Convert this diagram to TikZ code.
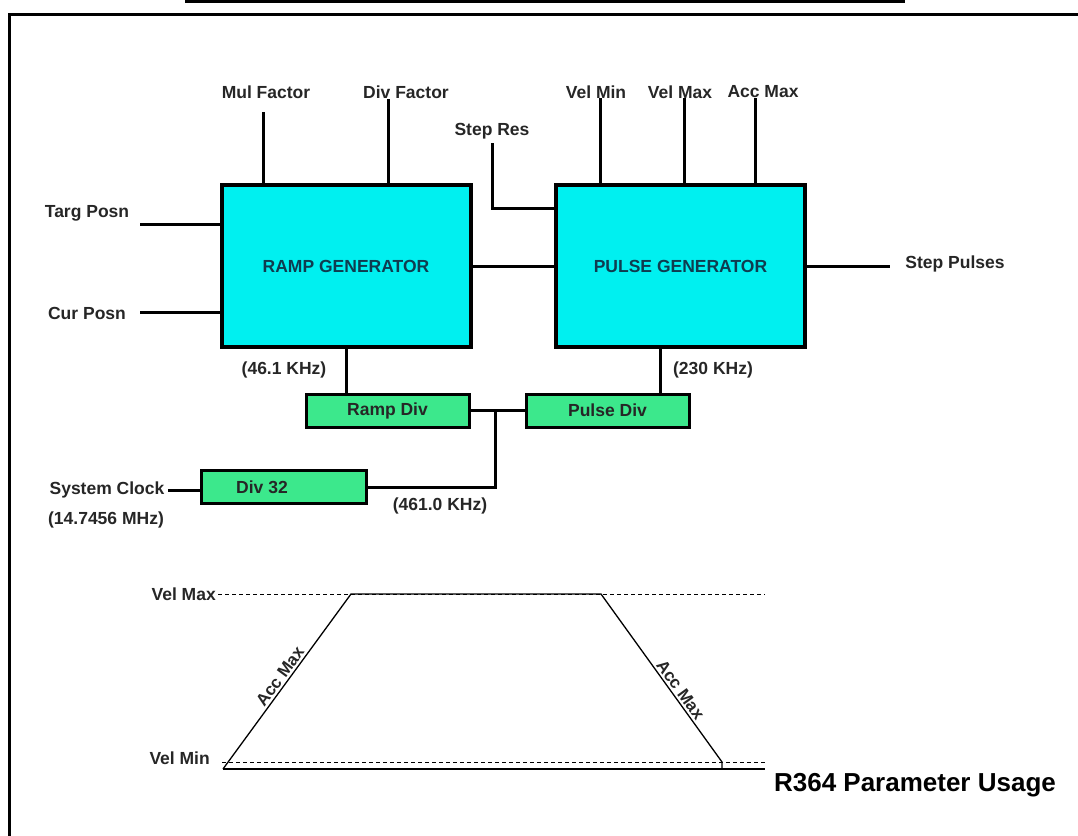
\documentclass[tikz,border=0pt]{standalone}
\usepackage{fontspec}
\setmainfont{Liberation Sans}
\definecolor{gencyan}{RGB}{0,240,240}
\definecolor{gentext}{RGB}{15,60,80}
\definecolor{divgreen}{RGB}{60,232,140}
\begin{document}
\begin{tikzpicture}[x=1pt,y=-1pt,
  lbl/.style={font=\fontsize{17.5}{20}\selectfont\bfseries, text=black!85, inner sep=0pt},
  genbox/.style={draw, line width=4pt, fill=gencyan, minimum width=249pt, minimum height=162pt, inner sep=0pt, font=\fontsize{17.5}{20}\selectfont\bfseries, text=gentext},
  divbox/.style={draw, line width=3pt, fill=divgreen, minimum width=163pt, minimum height=33pt, inner sep=0pt, font=\fontsize{17.5}{20}\selectfont\bfseries, text=black!85},
  wire/.style={line width=3pt},
  trapline/.style={line width=1.3pt},
  dashline/.style={line width=1pt, dash pattern=on 4pt off 3pt},
  slopelbl/.style={sloped, above, font=\fontsize{17}{20}\selectfont\bfseries, text=black!85, inner sep=2pt}
]
\useasboundingbox (0,0) rectangle (1078,835);
% frame and title rule
\coordinate (fBL) at (9,840);
\coordinate (fTL) at (9,14);
\coordinate (fTR) at (1080,14);
\draw[line width=3pt] (fBL) -- (fTL) -- (fTR);
\coordinate (tA) at (185,1.5);
\coordinate (tB) at (905,1.5);
\draw[line width=2.5pt] (tA) -- (tB);

% main blocks
\node[genbox] (ramp) at (346,266) {RAMP GENERATOR};
\node[genbox] (pulse) at (680.5,266) {PULSE GENERATOR};
\node[divbox] (rdiv) at (387.5,410.5) {Ramp Div};
\node[divbox] (pdiv) at (607.5,410.5) {Pulse Div};
\node[divbox, minimum width=165pt, label={[xshift=-22pt, font=\fontsize{17.5}{20}\selectfont\bfseries, text=black!85]center:Div 32}] (d32) at (284,487) {};

% top inputs
\node[lbl] (mul) at (266,92) {Mul Factor};
\coordinate (mulS) at (263,112);
\draw[wire] (mulS) -- (mulS |- ramp.north);
\node[lbl] (divf) at (406,92) {Div Factor};
\coordinate (divS) at (388,99);
\draw[wire] (divS) -- (divS |- ramp.north);
\node[lbl] (sres) at (492,131) {Step Res};
\coordinate (sresS) at (492,143);
\coordinate (sresK) at (492,208);
\draw[wire] (sresS) -- (sresK) -- (sresK -| pulse.west);
\node[lbl] (vmin) at (596,92) {Vel Min};
\coordinate (vminS) at (600,98);
\draw[wire] (vminS) -- (vminS |- pulse.north);
\node[lbl] (vmax) at (680,92) {Vel Max};
\coordinate (vmaxS) at (684,98);
\draw[wire] (vmaxS) -- (vmaxS |- pulse.north);
\node[lbl] (amax) at (763,92) {Acc Max};
\coordinate (amaxS) at (755,98);
\draw[wire] (amaxS) -- (amaxS |- pulse.north);

% left inputs
\node[lbl] (targ) at (87,213) {Targ Posn};
\coordinate (targE) at (140,224);
\draw[wire] (targE) -- (targE -| ramp.west);
\node[lbl] (cur) at (87,313) {Cur Posn};
\coordinate (curE) at (140,312);
\draw[wire] (curE) -- (curE -| ramp.west);

% between blocks and output
\draw[wire] (ramp.east) -- (pulse.west);
\coordinate (outE) at (890,266);
\draw[wire] (pulse.east) -- (outE);
\node[lbl] (spul) at (955,264) {Step Pulses};

% clocks
\node[lbl] (f461) at (284,370) {(46.1 KHz)};
\draw[wire] (ramp.south) -- (ramp.south |- rdiv.north);
\node[lbl] (f230) at (713,370) {(230 KHz)};
\coordinate (pck) at (660,0);
\draw[wire] (pck |- pulse.south) -- (pck |- pdiv.north);
\draw[wire] (rdiv.east) -- (pdiv.west);
\coordinate (jn) at (495,410.5);
\draw[wire] (d32.east) -| (jn);
\node[lbl] (f4610) at (440,506) {(461.0 KHz)};
\node[lbl] (sys) at (107,490) {System Clock};
\coordinate (sysE) at (168,490);
\draw[wire] (sysE) -- (sysE -| d32.west);
\node[lbl] (sysf) at (106,520) {(14.7456 MHz)};

% velocity profile
\node[lbl, anchor=east] (tvmax) at (216,594) {Vel Max};
\node[lbl, anchor=east] (tvmin) at (210,758) {Vel Min};
\coordinate (pA) at (223,769);
\coordinate (pB) at (351,594);
\coordinate (pC) at (601,594);
\coordinate (pD) at (722,762);
\coordinate (pE) at (722,769);
\coordinate (dmaxL) at (218,594);
\coordinate (dmaxR) at (765,594);
\coordinate (dminL) at (222,762);
\coordinate (dminR) at (765,762);
\coordinate (baseR) at (765,769);
\draw[dashline] (dmaxL) -- (dmaxR);
\draw[dashline] (dminL) -- (dminR);
\draw[trapline] (pA) -- (baseR);
\draw[trapline] (pA) -- node[slopelbl, pos=0.5] {Acc Max} (pB) -- (pC) -- node[slopelbl, pos=0.6] {Acc Max} (pD) -- (pE);

\node[font=\fontsize{26}{30}\selectfont\bfseries, inner sep=0pt] (title) at (915,785) {R364 Parameter Usage};
\end{tikzpicture}
\end{document}
